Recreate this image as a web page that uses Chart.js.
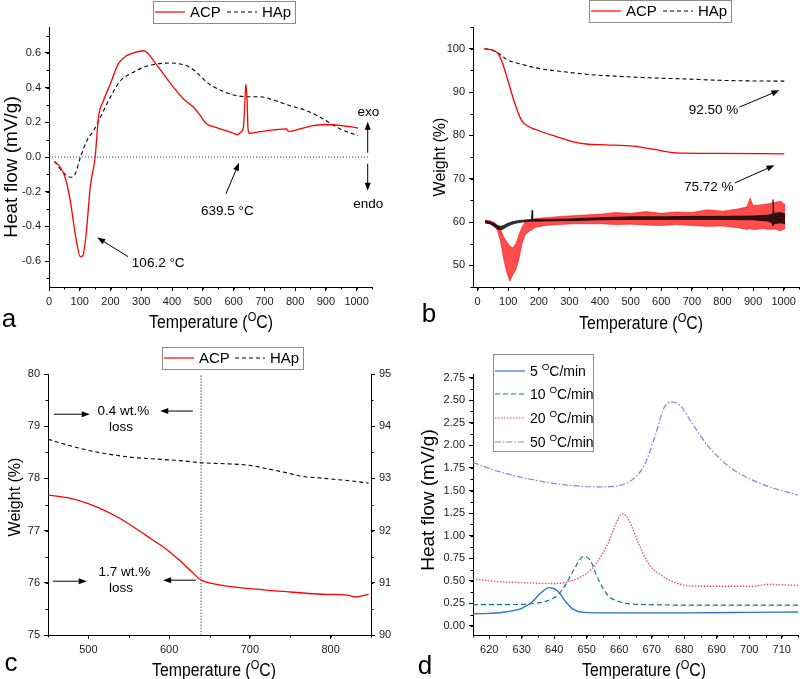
<!DOCTYPE html>
<html>
<head>
<meta charset="utf-8">
<title>DSC / TGA of ACP and HAp</title>
<script src="https://cdn.jsdelivr.net/npm/chart.js@4.4.1/dist/chart.umd.min.js"></script>
<style>
  html, body { margin: 0; padding: 0; background: #fff; }
  #fig { position: relative; width: 800px; height: 679px; overflow: hidden; }
  #fig canvas { position: absolute; left: 0; top: 0; width: 800px; height: 679px; }
</style>
</head>
<body>
<div id="fig">
  <canvas id="chart-a" width="800" height="679"></canvas>
  <canvas id="chart-b" width="800" height="679"></canvas>
  <canvas id="chart-c" width="800" height="679"></canvas>
  <canvas id="chart-d" width="800" height="679"></canvas>
</div>
<script>
(function() {
  'use strict';

  var FONT = '"Liberation Sans", Arial, sans-serif';
  var RED = '#ff0000', BLACK = '#000000';
  var C5 = '#2b74c8', C10 = '#177a68', C20 = '#e0526b', C50 = '#8585d4';

  // a: DSC, heat flow (mV/g)
  var A_T_ACP = [18, 37, 53, 69, 85, 102, 110, 121, 134, 150, 161, 177, 199, 226, 253, 280, 307, 318, 340, 372, 405, 437, 470, 491, 513, 535, 567, 600, 613, 623, 632, 637, 640, 644, 647, 651, 686, 729, 773, 778, 816, 854, 892, 924, 957, 978, 1005];
  var A_ACP = [-0.025, -0.06, -0.12, -0.25, -0.44, -0.575, -0.57, -0.44, -0.175, 0.0, 0.23, 0.325, 0.42, 0.54, 0.585, 0.604, 0.613, 0.604, 0.556, 0.479, 0.402, 0.335, 0.287, 0.24, 0.19, 0.175, 0.156, 0.137, 0.129, 0.142, 0.171, 0.325, 0.42, 0.325, 0.16, 0.137, 0.146, 0.156, 0.162, 0.148, 0.162, 0.18, 0.186, 0.186, 0.179, 0.175, 0.167];
  var A_T_HAP = [18, 42, 69, 85, 102, 123, 145, 167, 199, 232, 264, 307, 351, 394, 426, 459, 491, 518, 556, 600, 643, 686, 729, 784, 838, 892, 946, 1005];
  var A_HAP = [-0.025, -0.08, -0.117, -0.098, -0.002, 0.094, 0.152, 0.229, 0.344, 0.44, 0.479, 0.517, 0.537, 0.542, 0.537, 0.517, 0.469, 0.425, 0.387, 0.358, 0.348, 0.348, 0.329, 0.296, 0.267, 0.219, 0.162, 0.123];
  var A_ZERO_T = [0, 1043], A_ZERO = [0, 0];
  var A_XTICKS = [0, 100, 200, 300, 400, 500, 600, 700, 800, 900, 1000];
  var A_YTICKS = [-0.6, -0.4, -0.2, 0, 0.2, 0.4, 0.6];

  // b: TGA weight (%) + noisy derivative traces around 60 (drawn as min/max envelopes)
  var B_T_HAP = [22, 51, 73, 95, 138, 203, 290, 355, 464, 573, 682, 790, 899, 1002];
  var B_HAP = [100, 99.6, 98.7, 97.5, 96.5, 95.4, 94.6, 94.1, 93.6, 93.25, 93.0, 92.7, 92.55, 92.5];
  var B_T_ACP = [22, 51, 67, 78, 89, 105, 122, 143, 165, 203, 258, 312, 355, 420, 508, 573, 638, 671, 779, 1002];
  var B_ACP = [100, 99.6, 98.85, 97.3, 95.0, 91.2, 87.3, 83.5, 82.1, 81.0, 79.7, 78.5, 78.0, 77.8, 77.5, 76.8, 76.0, 75.9, 75.85, 75.72];
  var B_T_DR = [24, 40, 55, 65, 75, 85, 95, 105, 115, 125, 135, 145, 155, 170, 178, 180, 190, 220, 260, 320, 400, 450, 500, 550, 600, 650, 700, 750, 800, 850, 880, 890, 900, 930, 950, 970, 990, 1005];
  var B_DR_HI = [60.4, 60.3, 59.9, 59.3, 58.3, 56.5, 55.5, 54.5, 54, 55, 57, 58.8, 60, 60.4, 60.5, 60.6, 60.8, 61, 61.2, 61.5, 61.8, 62.2, 62, 62.4, 62, 62.3, 62.2, 62.8, 62.5, 63, 63.5, 65.5, 63.8, 64, 64.2, 64.5, 64.8, 64];
  var B_DR_LO = [59.8, 59.6, 59.1, 58, 55.5, 51.5, 48.5, 46.3, 47.8, 49, 51.5, 55, 57, 58, 58.2, 58.3, 58.8, 59.2, 59.4, 59.6, 59.6, 59.4, 59.5, 59.3, 59.2, 59.4, 59.2, 59, 59.1, 58.7, 58.3, 58.5, 58.2, 58.5, 58.3, 58.4, 58, 58.5];
  var B_T_DK = [24, 40, 55, 65, 75, 85, 95, 110, 130, 160, 176, 178, 180, 200, 250, 300, 400, 500, 600, 700, 800, 900, 950, 962, 965, 968, 990, 1005];
  var B_DK_HI = [60.3, 60.1, 59.6, 59.2, 59.0, 59.2, 59.6, 60, 60.3, 60.5, 60.6, 62.7, 60.6, 60.6, 60.6, 60.7, 61.0, 61.2, 61.2, 61.3, 61.3, 61.4, 61.6, 61.8, 65.2, 62.0, 62.2, 61.8];
  var B_DK_LO = [59.8, 59.6, 58.9, 58.4, 58.2, 58.4, 58.9, 59.4, 59.8, 60.1, 60.2, 60.2, 60.2, 60.2, 60.3, 60.3, 60.5, 60.6, 60.6, 60.6, 60.6, 60.5, 60.2, 59.8, 59.2, 59.6, 59.8, 59.6];
  var B_XTICKS = [0, 100, 200, 300, 400, 500, 600, 700, 800, 900, 1000];
  var B_YTICKS = [50, 60, 70, 80, 90, 100];

  // c: TGA zoom 450-850 C, ACP left axis, HAp right axis
  var C_T_ACP = [450, 474, 499, 515, 536, 556, 577, 597, 613, 628, 640, 659, 679, 700, 720, 745, 769, 794, 819, 831, 847];
  var C_ACP = [77.68, 77.63, 77.52, 77.42, 77.26, 77.07, 76.85, 76.64, 76.43, 76.21, 76.05, 75.97, 75.92, 75.89, 75.86, 75.83, 75.80, 75.78, 75.77, 75.73, 75.78];
  var C_T_HAP = [450, 474, 499, 527, 556, 585, 614, 640, 671, 700, 720, 745, 765, 786, 806, 827, 847];
  var C_HAP = [93.75, 93.64, 93.54, 93.46, 93.40, 93.37, 93.34, 93.30, 93.28, 93.25, 93.19, 93.11, 93.04, 93.01, 92.98, 92.95, 92.91];
  var C_MARK_T = [639.5, 639.5], C_MARK = [75, 80];
  var C_XTICKS = [500, 600, 700, 800];
  var C_YTICKS = [75, 76, 77, 78, 79, 80];
  var C_Y2TICKS = [90, 91, 92, 93, 94, 95];

  // d: DSC crystallisation peak at four heating rates
  var D_T5 = [615, 620, 625, 630, 633, 636, 638.5, 641, 643.5, 646, 649, 655, 680, 700, 715];
  var D_5 = [0.135, 0.14, 0.155, 0.195, 0.26, 0.37, 0.425, 0.39, 0.27, 0.18, 0.15, 0.145, 0.145, 0.15, 0.155];
  var D_T10 = [615, 630, 635, 638, 641, 643, 646, 649, 651, 653.5, 656.5, 660, 665, 690, 715];
  var D_10 = [0.235, 0.24, 0.255, 0.28, 0.34, 0.43, 0.62, 0.77, 0.73, 0.52, 0.34, 0.27, 0.24, 0.23, 0.23];
  var D_T20 = [615, 623, 630, 640, 648, 652, 656.5, 659, 661, 663, 666, 669, 673, 678, 685, 696, 701, 706, 715];
  var D_20 = [0.52, 0.49, 0.48, 0.47, 0.54, 0.65, 0.91, 1.135, 1.245, 1.17, 0.91, 0.69, 0.56, 0.47, 0.44, 0.44, 0.44, 0.46, 0.45];
  var D_T50 = [615, 623, 634, 644, 654, 660.5, 665, 668, 671, 674, 676.5, 679, 682.5, 687.5, 694, 701, 708, 715];
  var D_50 = [1.81, 1.71, 1.615, 1.56, 1.54, 1.56, 1.65, 1.8, 2.1, 2.43, 2.48, 2.43, 2.24, 1.985, 1.76, 1.615, 1.52, 1.45];
  var D_XTICKS = [620, 630, 640, 650, 660, 670, 680, 690, 700, 710];
  var D_YTICKS = [0, 0.25, 0.5, 0.75, 1, 1.25, 1.5, 1.75, 2, 2.25, 2.5, 2.75];

  function pts(xs, ys) { return xs.map(function(x, i) { return { x: x, y: ys[i] }; }); }

  function line(xs, ys, color, w, dash, yId) {
    return { data: pts(xs, ys), borderColor: color, borderWidth: w, borderDash: dash || [], pointRadius: 0,
      fill: false, cubicInterpolationMode: 'monotone', yAxisID: yId || 'y' };
  }
  function band(xs, ys, color, fillColor, upper) {
    return { data: pts(xs, ys), borderColor: color, borderWidth: 0.8, pointRadius: 0, tension: 0,
      fill: upper ? '+1' : false, backgroundColor: fillColor };
  }

  function lin(pos, min, max, list, dec, size) {
    return {
      type: 'linear', position: pos, min: min, max: max,
      afterBuildTicks: function(s) { s.ticks = list.map(function(v) { return { value: v }; }); },
      afterFit: function(s) { if (s.isHorizontal()) s.height = size; else s.width = size; },
      grid: { display: true, drawOnChartArea: false, drawTicks: true, tickLength: 4, tickColor: '#000', tickWidth: 1 },
      border: { display: true, color: '#000', width: 1 },
      ticks: { color: '#1a1a1a', padding: 4, autoSkip: false, maxRotation: 0, font: { family: FONT, size: 11 },
        callback: function(v) { return Number(v).toFixed(dec); } }
    };
  }

  // text with "^X" = superscript X
  function parts(str) {
    var out = [], buf = '';
    for (var i = 0; i < str.length; i++) {
      if (str[i] === '^') { if (buf) out.push({ t: buf }); buf = ''; out.push({ t: str[++i], sup: true }); }
      else buf += str[i];
    }
    if (buf) out.push({ t: buf });
    return out;
  }
  function text(ctx, str, x, y, size, o) {
    o = o || {};
    var ps = parts(str), w = 0;
    ps.forEach(function(p) {
      ctx.font = (p.sup ? size * 0.7 : size) + 'px ' + FONT;
      p.w = ctx.measureText(p.t).width; w += p.w;
    });
    ctx.save();
    ctx.translate(x, y);
    ctx.scale(o.sx || 1, 1);
    if (o.rot) ctx.rotate(o.rot);
    ctx.fillStyle = '#000'; ctx.textAlign = 'left'; ctx.textBaseline = 'alphabetic';
    var cx = o.align === 'left' ? 0 : -w / 2, base = size * 0.36;
    ps.forEach(function(p) {
      ctx.font = (p.sup ? size * 0.7 : size) + 'px ' + FONT;
      ctx.fillText(p.t, cx, p.sup ? base - size * 0.42 : base);
      cx += p.w;
    });
    ctx.restore();
  }

  function arrow(ctx, x1, y1, x2, y2) {
    var a = Math.atan2(y2 - y1, x2 - x1), L = 8, W = 3, c = Math.cos(a), s = Math.sin(a);
    ctx.beginPath(); ctx.moveTo(x1, y1); ctx.lineTo(x2 - c * L * 0.7, y2 - s * L * 0.7); ctx.stroke();
    ctx.beginPath(); ctx.moveTo(x2, y2);
    ctx.lineTo(x2 - c * L - s * W, y2 - s * L + c * W);
    ctx.lineTo(x2 - c * L + s * W, y2 - s * L - c * W);
    ctx.closePath(); ctx.fill();
  }

  function minorTicks(ctx, s, step, len) {
    var v0 = Math.ceil(s.min / step - 1e-9) * step;
    ctx.beginPath();
    for (var v = v0; v <= s.max + 1e-9; v += step) {
      var p = Math.round(s.getPixelForValue(v)) + 0.5;
      if (s.isHorizontal()) { ctx.moveTo(p, s.top); ctx.lineTo(p, s.top + len); }
      else if (s.position === 'left') { ctx.moveTo(s.right, p); ctx.lineTo(s.right - len, p); }
      else { ctx.moveTo(s.left, p); ctx.lineTo(s.left + len, p); }
    }
    ctx.stroke();
  }

  function legend(ctx, lg) {
    ctx.save();
    ctx.strokeStyle = '#8c8c8c'; ctx.lineWidth = 1;
    ctx.strokeRect(lg.box[0] + 0.5, lg.box[1] + 0.5, lg.box[2], lg.box[3]);
    lg.items.forEach(function(it) {
      ctx.save();
      ctx.strokeStyle = it.color; ctx.lineWidth = it.w || 1.2; ctx.setLineDash(it.dash || []);
      ctx.beginPath(); ctx.moveTo(it.x, it.y); ctx.lineTo(it.x + 30, it.y); ctx.stroke();
      ctx.restore();
      text(ctx, it.label, it.x + 35, it.y, lg.size, { align: 'left' });
    });
    ctx.restore();
  }

  function deco(cfg) {
    return {
      id: 'deco',
      afterDraw: function(chart) {
        var ctx = chart.ctx, sx = chart.scales.x;
        ctx.save();
        ctx.strokeStyle = '#000'; ctx.fillStyle = '#000'; ctx.lineWidth = 1;
        (cfg.minor || []).forEach(function(m) { minorTicks(ctx, chart.scales[m[0]], m[1], 2.5); });
        (cfg.arrows || []).forEach(function(a) {
          var sy = chart.scales.y;
          arrow(ctx, sx.getPixelForValue(a[0]), sy.getPixelForValue(a[1]), sx.getPixelForValue(a[2]), sy.getPixelForValue(a[3]));
        });
        (cfg.notes || []).forEach(function(n) {
          text(ctx, n.text, sx.getPixelForValue(n.x), chart.scales.y.getPixelForValue(n.y), 13.5);
        });
        text(ctx, cfg.xTitle[0], cfg.xTitle[1], cfg.xTitle[2], cfg.xTitle[3], { sx: 0.88 });
        text(ctx, cfg.yTitle[0], cfg.yTitle[1], cfg.yTitle[2], cfg.yTitle[3], { rot: -Math.PI / 2 });
        text(ctx, cfg.letter[0], cfg.letter[1], cfg.letter[2], 26);
        legend(ctx, cfg.legend);
        ctx.restore();
      }
    };
  }

  function makeChart(id, cfg) {
    return new Chart(document.getElementById(id), {
      type: 'line',
      data: { datasets: cfg.datasets },
      options: {
        responsive: false, animation: false, events: [],
        layout: { padding: cfg.pad },
        plugins: { legend: { display: false }, tooltip: { enabled: false } },
        scales: cfg.scales
      },
      plugins: [deco(cfg)]
    });
  }

  Chart.defaults.font.family = FONT;

  makeChart('chart-a', {
    pad: { left: 9, top: 27, right: 428, bottom: 372 },
    scales: { x: lin('bottom', 0, 1050, A_XTICKS, 0, 20), y: lin('left', -0.75, 0.75, A_YTICKS, 1, 40) },
    datasets: [
      line(A_T_ACP, A_ACP, RED, 1.3),
      line(A_T_HAP, A_HAP, BLACK, 1.1, [4, 3]),
      line(A_ZERO_T, A_ZERO, '#333', 1, [1, 2])
    ],
    minor: [['x', 50], ['y', 0.1]],
    notes: [
      { text: '106.2 °C', x: 355, y: -0.604 }, { text: '639.5 °C', x: 580, y: -0.304 },
      { text: 'exo', x: 1038, y: 0.267 }, { text: 'endo', x: 1038, y: -0.265 }
    ],
    arrows: [[257, -0.575, 157, -0.465], [575, -0.213, 618, -0.033], [1036, 0.025, 1036, 0.203], [1036, -0.039, 1036, -0.194]],
    legend: { box: [153, 1, 142, 22], size: 15, items: [
      { x: 155, y: 12, color: RED, label: 'ACP' }, { x: 227, y: 12, color: BLACK, dash: [4, 3], label: 'HAp' }] },
    xTitle: ['Temperature (^OC)', 211, 322, 18],
    yTitle: ['Heat flow (mV/g)', 10, 167, 19],
    letter: ['a', 9, 318]
  });

  makeChart('chart-b', {
    pad: { left: 433, top: 27, right: 1, bottom: 372 },
    scales: { x: lin('bottom', -15, 1050, B_XTICKS, 0, 20), y: lin('left', 45, 105, B_YTICKS, 0, 40) },
    datasets: [
      line(B_T_ACP, B_ACP, RED, 1.3),
      line(B_T_HAP, B_HAP, BLACK, 1.1, [4, 3]),
      band(B_T_DK, B_DK_HI, 'rgba(0,0,0,0.85)', 'rgba(0,0,0,0.8)', true),
      band(B_T_DK, B_DK_LO, 'rgba(0,0,0,0.85)'),
      band(B_T_DR, B_DR_HI, 'rgba(255,0,0,0.7)', 'rgba(255,0,0,0.7)', true),
      band(B_T_DR, B_DR_LO, 'rgba(255,0,0,0.7)')
    ],
    minor: [['x', 50], ['y', 5]],
    notes: [{ text: '92.50 %', x: 771, y: 86.0 }, { text: '75.72 %', x: 755, y: 68.3 }],
    arrows: [[855, 86.5, 986, 90.4], [840, 69.0, 970, 73.1]],
    legend: { box: [589, 0, 142, 22], size: 15, items: [
      { x: 591, y: 11, color: RED, label: 'ACP' }, { x: 663, y: 11, color: BLACK, dash: [4, 3], label: 'HAp' }] },
    xTitle: ['Temperature (^OC)', 641, 323, 18],
    yTitle: ['Weight (%)', 439, 157, 16],
    letter: ['b', 429, 313]
  });

  makeChart('chart-c', {
    pad: { left: 8, top: 374, right: 399, bottom: 24 },
    scales: {
      x: lin('bottom', 450, 850, C_XTICKS, 0, 20),
      y: lin('left', 75, 80, C_YTICKS, 0, 40),
      y2: lin('right', 90, 95, C_Y2TICKS, 0, 30)
    },
    datasets: [
      line(C_T_ACP, C_ACP, RED, 1.3),
      line(C_T_HAP, C_HAP, BLACK, 1.1, [4, 3], 'y2'),
      line(C_MARK_T, C_MARK, '#555', 1, [1.5, 1.5])
    ],
    minor: [['x', 50], ['y', 0.5], ['y2', 0.5]],
    notes: [
      { text: '0.4 wt.%', x: 543.4, y: 79.30 }, { text: 'loss', x: 540.4, y: 79.0 },
      { text: '1.7 wt.%', x: 544.7, y: 76.22 }, { text: 'loss', x: 540.4, y: 75.92 }
    ],
    arrows: [[457.4, 79.23, 501.7, 79.23], [629.5, 79.29, 589, 79.29], [456.2, 76.03, 498, 76.03], [633.2, 76.05, 592.6, 76.05]],
    legend: { box: [162, 347, 141, 22], size: 15, items: [
      { x: 164, y: 358, color: RED, label: 'ACP' }, { x: 235, y: 358, color: BLACK, dash: [4, 3], label: 'HAp' }] },
    xTitle: ['Temperature (^OC)', 214, 670, 18],
    yTitle: ['Weight (%)', 14, 497, 16],
    letter: ['c', 11, 662]
  });

  makeChart('chart-d', {
    pad: { left: 433, top: 374, right: 2, bottom: 24 },
    scales: { x: lin('bottom', 615, 715, D_XTICKS, 0, 20), y: lin('left', -0.1, 2.79, D_YTICKS, 2, 40) },
    datasets: [
      line(D_T5, D_5, C5, 1.4),
      line(D_T10, D_10, C10, 1.2, [5, 3]),
      line(D_T20, D_20, C20, 1.3, [1.5, 1.5]),
      line(D_T50, D_50, C50, 1.2, [6, 2, 1.5, 2])
    ],
    minor: [['x', 5], ['y', 0.125]],
    legend: { box: [493, 354, 100, 97], size: 14, items: [
      { x: 495, y: 371, color: C5, label: '5 ^OC/min' },
      { x: 495, y: 394, color: C10, dash: [5, 3], label: '10 ^OC/min' },
      { x: 495, y: 418, color: C20, dash: [1.5, 1.5], label: '20 ^OC/min' },
      { x: 495, y: 442, color: C50, dash: [6, 2, 1.5, 2], label: '50 ^OC/min' }] },
    xTitle: ['Temperature (^OC)', 644, 670, 18],
    yTitle: ['Heat flow (mV/g)', 427, 500, 19],
    letter: ['d', 425, 665]
  });
})();
</script>
</body>
</html>
